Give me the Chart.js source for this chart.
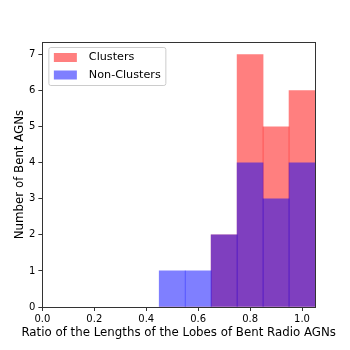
<!DOCTYPE html>
<html>
<head>
<meta charset="utf-8">
<script src="https://cdn.jsdelivr.net/npm/chart.js@4/dist/chart.umd.min.js"></script>
<style>
  html, body { margin: 0; padding: 0; background: #fff; }
  #wrap { width: 350px; height: 350px; }
</style>
</head>
<body>
<div id="wrap"><canvas id="histChart" width="350" height="350"></canvas></div>
<script>
// bin centres (bin width 0.1)
const binCenters = [0.5, 0.6, 0.7, 0.8, 0.9, 1.0];
const clusterCounts = [0, 0, 2, 7, 5, 6];
const nonClusterCounts = [1, 1, 2, 4, 3, 4];
const seriesNames = ["Clusters", "Non-Clusters"];
const seriesColors = ["rgba(255, 0, 0, 0.5)", "rgba(0, 0, 255, 0.5)"];
const xTitle = "Ratio of the Lengths of the Lobes of Bent Radio AGNs";
const yTitle = "Number of Bent AGNs";

const toPoints = (counts) => binCenters.map((x, i) => ({ x: x, y: counts[i] }));

// axes frame (all four spines) + axis titles (drawn here so Chart.js does not squeeze them)
const framePlugin = {
  id: "frame",
  afterDraw(chart) {
    const { ctx, chartArea: a } = chart;
    ctx.save();
    ctx.strokeStyle = "#333";
    ctx.lineWidth = 1;
    ctx.strokeRect(Math.round(a.left) + 0.5, Math.round(a.top) + 0.5,
      Math.round(a.right - a.left), Math.round(a.bottom - a.top));

    ctx.fillStyle = "#000";
    ctx.font = "11.8px 'DejaVu Sans'";
    ctx.textAlign = "center";
    ctx.textBaseline = "middle";
    ctx.fillText(xTitle, (a.left + a.right) / 2, a.bottom + 26);

    ctx.translate(a.left - 22.5, (a.top + a.bottom) / 2);
    ctx.rotate(-Math.PI / 2);
    ctx.fillText(yTitle, 0, 0);
    ctx.restore();
  }
};

// matplotlib-like legend in upper left of the axes
const legendPlugin = {
  id: "boxLegend",
  afterDraw(chart) {
    const { ctx, chartArea: a } = chart;
    const x0 = a.left + 6, y0 = a.top + 5;
    ctx.save();
    ctx.fillStyle = "rgba(255,255,255,0.8)";
    ctx.strokeStyle = "#ccc";
    ctx.lineWidth = 1;
    ctx.beginPath();
    ctx.roundRect(x0 + 0.5, y0 + 0.5, 117, 38, 2);
    ctx.fill();
    ctx.stroke();
    ctx.font = "11.2px 'DejaVu Sans'";
    ctx.textBaseline = "middle";
    seriesNames.forEach((name, i) => {
      const cy = y0 + 10.5 + i * 17.5;
      ctx.fillStyle = seriesColors[i];
      ctx.fillRect(x0 + 5.5, cy - 4.5, 23, 9);
      ctx.fillStyle = "#000";
      ctx.fillText(name, x0 + 40.5, cy);
    });
    ctx.restore();
  }
};

const ctx = document.getElementById("histChart");

new Chart(ctx, {
  type: "bar",
  data: {
    datasets: [
      {
        label: seriesNames[0],
        data: toPoints(clusterCounts),
        backgroundColor: seriesColors[0],
        borderWidth: 0,
        order: 2
      },
      {
        label: seriesNames[1],
        data: toPoints(nonClusterCounts),
        backgroundColor: seriesColors[1],
        borderWidth: 0,
        order: 1
      }
    ]
  },
  options: {
    responsive: false,
    animation: false,
    devicePixelRatio: 1,
    grouped: false,
    barPercentage: 1,
    categoryPercentage: 1,
    layout: { padding: { top: 42, right: 35, left: 26, bottom: 23 } },
    plugins: {
      legend: { display: false },
      tooltip: { enabled: false }
    },
    scales: {
      x: {
        type: "linear",
        min: 0,
        max: 1.05,
        offset: false,
        grid: { offset: false, drawOnChartArea: false, drawTicks: true, tickLength: 4, color: "#333" },
        border: { display: false },
        ticks: {
          stepSize: 0.2,
          includeBounds: false,
          color: "#000",
          padding: 2,
          maxRotation: 0,
          font: { family: "DejaVu Sans", size: 10 },
          callback: (v) => v.toFixed(1)
        }
      },
      y: {
        min: 0,
        max: 7.35,
        grid: { drawOnChartArea: false, drawTicks: true, tickLength: 4, color: "#333" },
        border: { display: false },
        ticks: {
          stepSize: 1,
          includeBounds: false,
          color: "#000",
          padding: 3,
          font: { family: "DejaVu Sans", size: 10 }
        }
      }
    }
  },
  plugins: [framePlugin, legendPlugin]
});
</script>
</body>
</html>
